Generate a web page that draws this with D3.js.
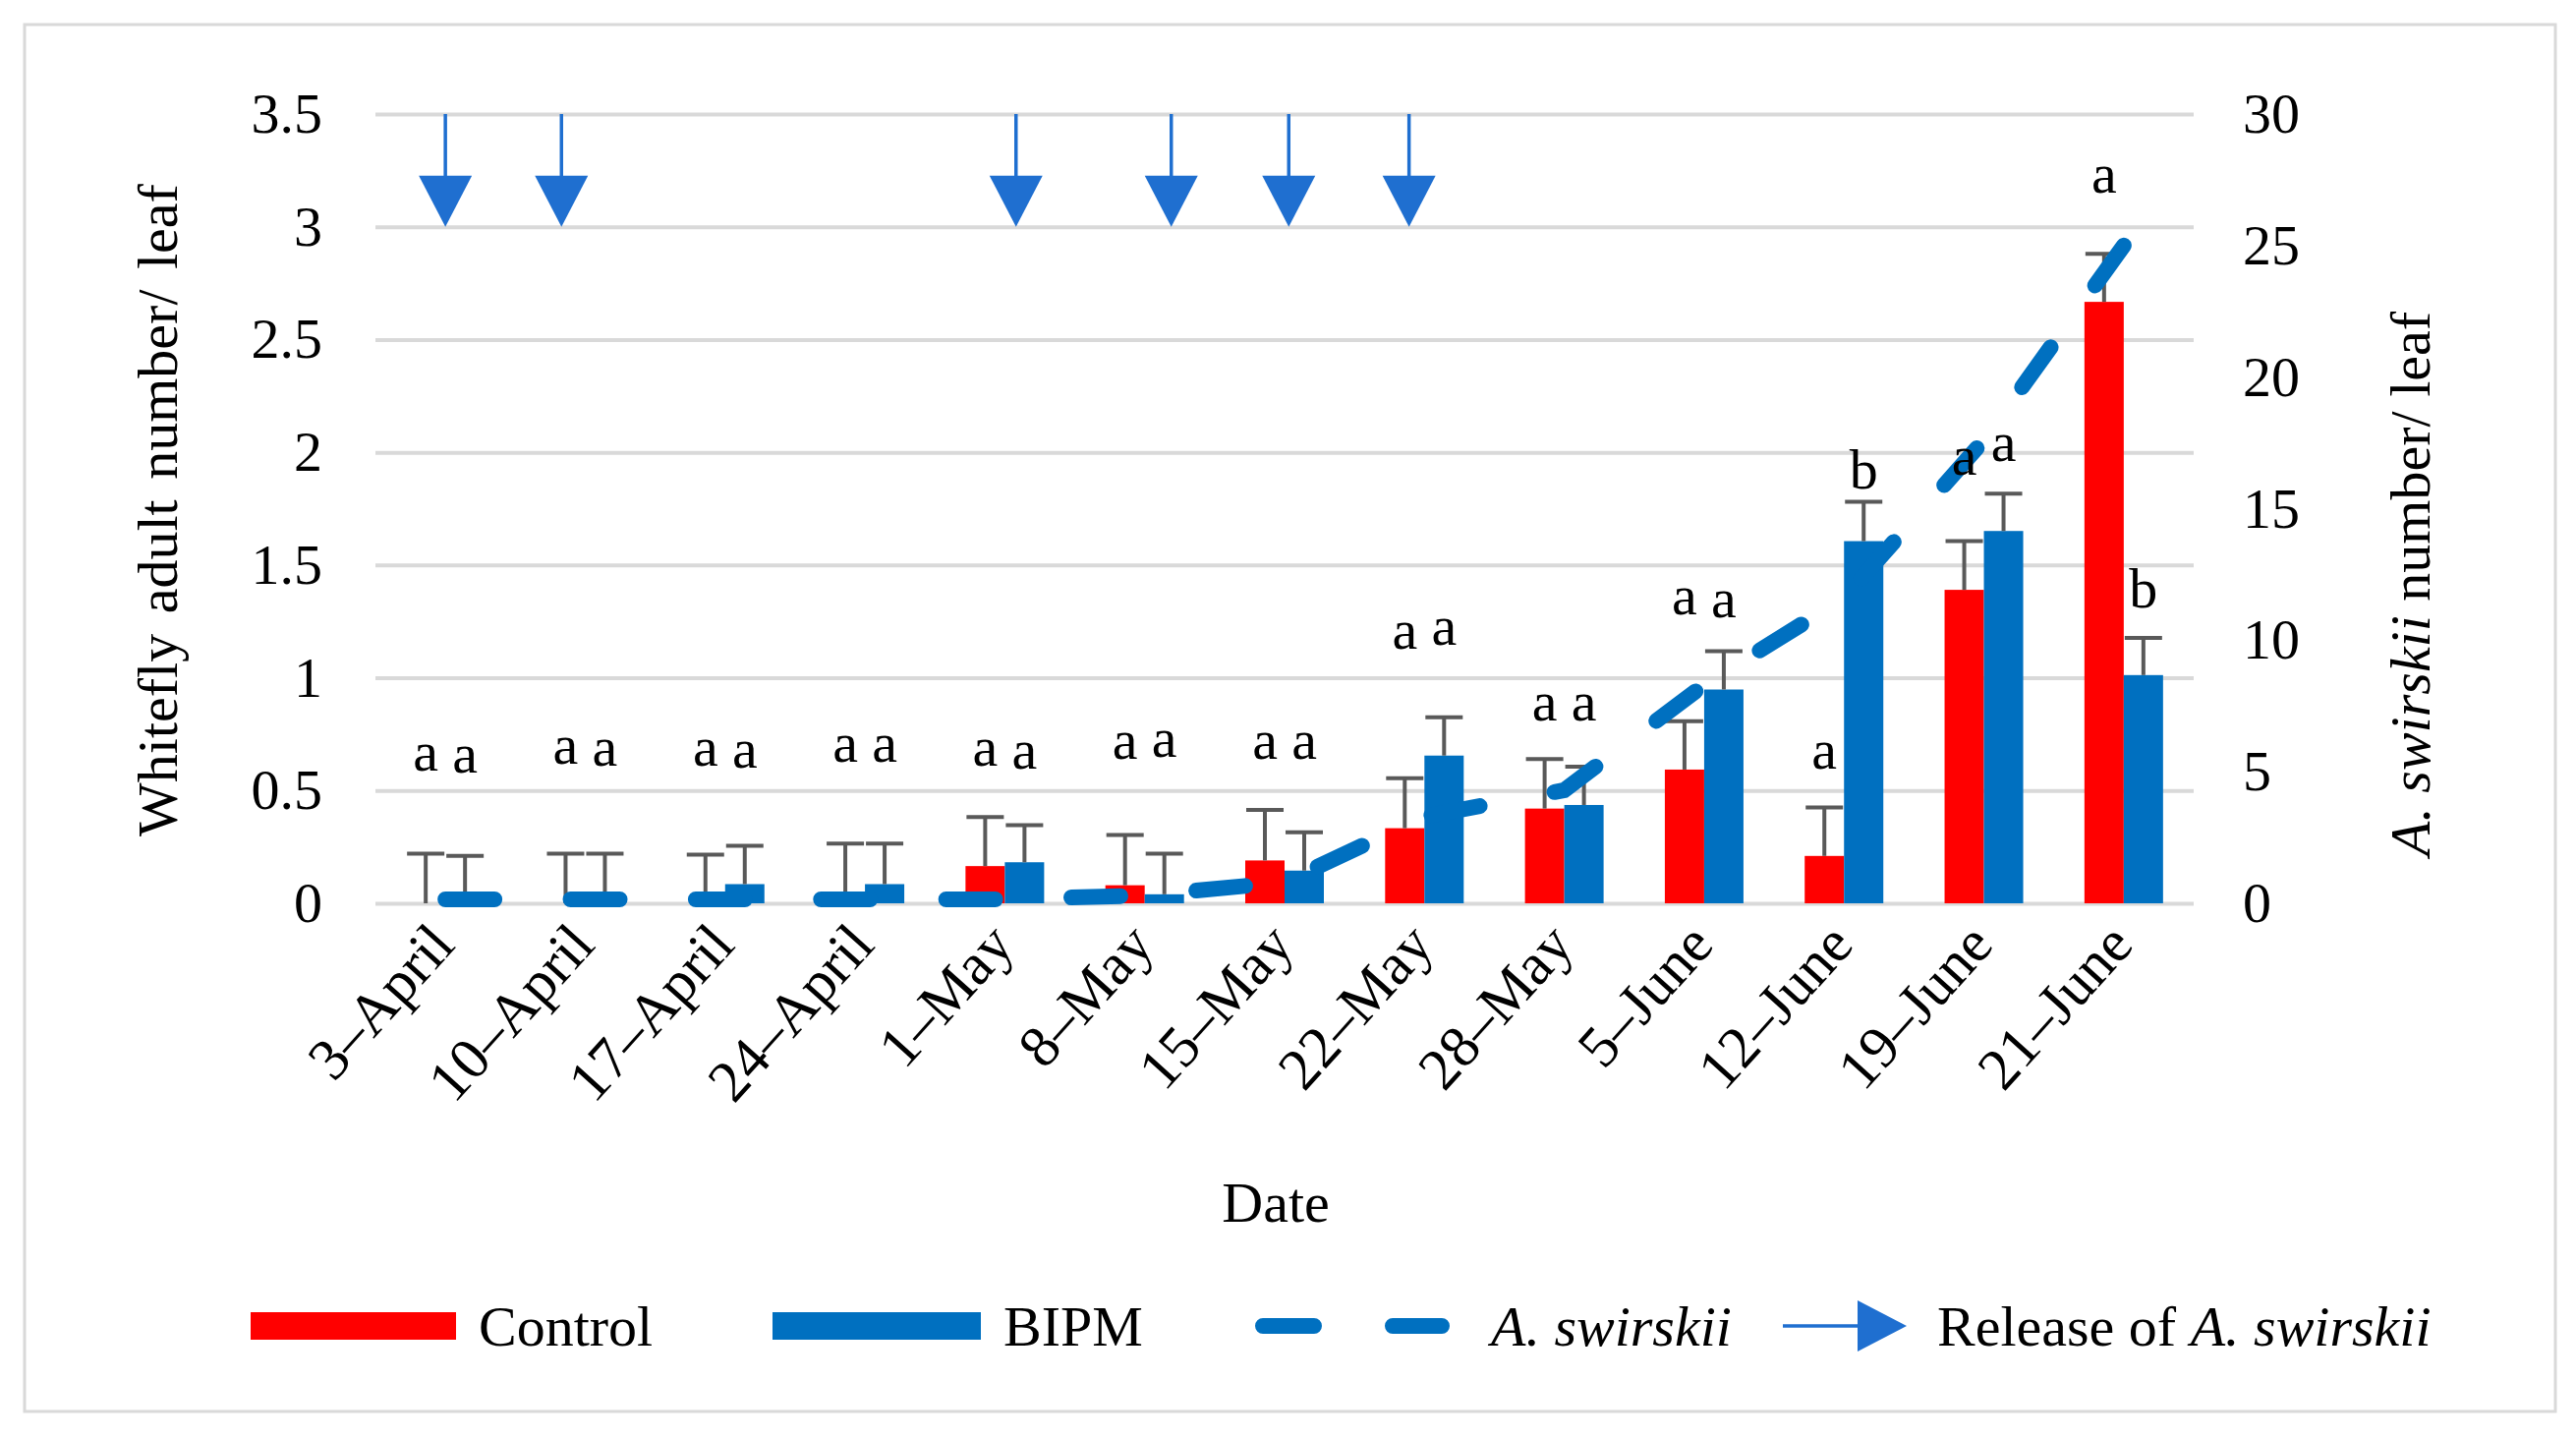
<!DOCTYPE html>
<html>
<head>
<meta charset="utf-8">
<script src="https://cdn.jsdelivr.net/npm/d3@7/dist/d3.min.js"></script>
<style>
  body { margin: 0; background: #fff; }
  text { font-family: "Liberation Serif", "Times New Roman", serif; fill: #000; }
</style>
</head>
<body>
<div id="chart"></div>
<script>
// sampling dates
var dates = ["3–April", "10–April", "17–April", "24–April", "1–May", "8–May", "15–May",
  "22–May", "28–May", "5–June", "12–June", "19–June", "21–June"];
// whitefly adults / leaf
var control = [0, 0, 0, 0.045, 0.165, 0.08, 0.19, 0.333, 0.42, 0.593, 0.21, 1.39, 2.667];
var controlErr = [0.22, 0.22, 0.216, 0.22, 0.218, 0.223, 0.224, 0.222, 0.22, 0.214, 0.215, 0.216, 0.213];
var bipm = [0.02, 0.02, 0.085, 0.085, 0.182, 0.04, 0.145, 0.655, 0.436, 0.948, 1.606, 1.651, 1.012];
var bipmErr = [0.19, 0.2, 0.17, 0.18, 0.165, 0.18, 0.17, 0.17, 0.17, 0.17, 0.175, 0.166, 0.165];
// A. swirskii / leaf (right axis)
var swirskii = [0.15, 0.15, 0.15, 0.15, 0.15, 0.3, 0.8, 3.3, 4.3, 8.3, 11.6, 17.6, 25];
// significance letters and the height (left axis units) where they sit
var controlLetters = ["a", "a", "a", "a", "a", "a", "a", "a", "a", "a", "a", "a", "a"];
var bipmLetters = ["a", "a", "a", "a", "a", "a", "a", "a", "a", "a", "b", "a", "b"];
var controlLetterAt = [0.587, 0.617, 0.61, 0.627, 0.61, 0.64, 0.64, 1.13, 0.81, 1.28, 0.596, 1.9, 3.15];
var bipmLetterAt = [0.58, 0.612, 0.6, 0.627, 0.595, 0.65, 0.64, 1.146, 0.81, 1.27, 1.84, 1.96, 1.31];
// releases of A. swirskii, as position on the date axis (category index)
var releases = [0.0, 0.83, 4.08, 5.19, 6.03, 6.89];
var leftTicks = [0, 0.5, 1, 1.5, 2, 2.5, 3, 3.5];
var rightTicks = [0, 5, 10, 15, 20, 25, 30];

var W = 2621, H = 1463;
var margin = { top: 116, left: 382 };
var width = 2232 - margin.left;
var height = 919 - margin.top;
var RED = "#FF0000", BLUE = "#0070C0", ARROW = "#1F6FD0", ERR = "#595959";
var svg, g, x, x1, y, y2, xr;

function initSvg() {
  svg = d3.select("#chart").append("svg")
    .attr("width", W)
    .attr("height", H)
    .attr("viewBox", "0 0 " + W + " " + H);
  svg.append("rect")
    .attr("x", 25).attr("y", 25)
    .attr("width", 2575).attr("height", 1411)
    .attr("fill", "#fff")
    .attr("stroke", "#d9d9d9")
    .attr("stroke-width", 3);
  g = svg.append("g")
    .attr("transform", "translate(" + margin.left + "," + margin.top + ")");
}

function initAxis() {
  x = d3.scaleBand().domain(dates).range([0, width]).padding(0);
  var bw = x.bandwidth();
  x1 = d3.scaleBand().domain(["control", "bipm"]).range([bw / 2 - 40, bw / 2 + 40]).padding(0);
  y = d3.scaleLinear().domain([0, 3.5]).range([height, 0]);
  y2 = d3.scaleLinear().domain([0, 30]).range([height, 0]);
  xr = d3.scaleLinear().domain([-0.5, dates.length - 0.5]).range([0, width]);
}

function drawAxis() {
  // gridlines
  var grid = g.append("g")
    .attr("class", "grid")
    .call(d3.axisLeft(y).tickValues(leftTicks).tickSize(-width).tickFormat(""));
  grid.select(".domain").remove();
  grid.selectAll("line").attr("stroke", "#d9d9d9").attr("stroke-width", 4);

  var yl = g.append("g")
    .call(d3.axisLeft(y).tickValues(leftTicks).tickSize(0).tickPadding(54)
      .tickFormat(function (d) { return String(d); }));
  yl.select(".domain").remove();
  yl.selectAll("text").attr("font-size", 58).style("font-family", null);

  var yr = g.append("g")
    .attr("transform", "translate(" + width + ",0)")
    .call(d3.axisRight(y2).tickValues(rightTicks).tickSize(0).tickPadding(50));
  yr.select(".domain").remove();
  yr.selectAll("text").attr("font-size", 58).style("font-family", null);

  var xa = g.append("g")
    .attr("transform", "translate(0," + height + ")")
    .call(d3.axisBottom(x).tickSize(0));
  xa.select(".domain").remove();
  xa.selectAll("text")
    .attr("font-size", 60)
    .attr("y", 0)
    .attr("dy", "0.35em")
    .attr("transform", "translate(-4,30) rotate(-48)")
    .style("text-anchor", "end")
    .style("font-family", null);
  svg.selectAll(".tick text").attr("fill", "#000");

  svg.append("text")
    .attr("transform", "translate(160,519) rotate(-90)")
    .attr("text-anchor", "middle")
    .attr("dy", "0.35em")
    .attr("font-size", 58)
    .attr("word-spacing", 6)
    .text("Whitefly adult number/ leaf");

  var rt = svg.append("text")
    .attr("transform", "translate(2452,594) rotate(-90)")
    .attr("text-anchor", "middle")
    .attr("dy", "0.35em")
    .attr("font-size", 58);
  rt.append("tspan").attr("font-style", "italic").text("A. swirskii");
  rt.append("tspan").text(" number/ leaf");

  svg.append("text")
    .attr("x", 1298).attr("y", 1243)
    .attr("text-anchor", "middle")
    .attr("font-size", 58)
    .text("Date");
}

function drawBars() {
  var series = [
    { key: "control", values: control, err: controlErr, color: RED, letters: controlLetters, at: controlLetterAt },
    { key: "bipm", values: bipm, err: bipmErr, color: BLUE, letters: bipmLetters, at: bipmLetterAt }
  ];
  series.forEach(function (s) {
    g.selectAll(".bar-" + s.key)
      .data(s.values)
      .enter().append("rect")
      .attr("class", "bar-" + s.key)
      .attr("x", function (d, i) { return x(dates[i]) + x1(s.key); })
      .attr("y", function (d) { return y(d); })
      .attr("width", x1.bandwidth())
      .attr("height", function (d) { return height - y(d); })
      .attr("fill", s.color);
  });
  series.forEach(function (s) {
    var cx = function (i) { return x(dates[i]) + x1(s.key) + x1.bandwidth() / 2; };
    var eb = g.selectAll(".err-" + s.key)
      .data(s.values)
      .enter().append("g")
      .attr("class", "err-" + s.key)
      .attr("stroke", ERR)
      .attr("stroke-width", 4);
    eb.append("line")
      .attr("x1", function (d, i) { return cx(i); })
      .attr("x2", function (d, i) { return cx(i); })
      .attr("y1", function (d) { return y(d); })
      .attr("y2", function (d, i) { return y(d + s.err[i]); });
    eb.append("line")
      .attr("x1", function (d, i) { return cx(i) - 19; })
      .attr("x2", function (d, i) { return cx(i) + 19; })
      .attr("y1", function (d, i) { return y(d + s.err[i]); })
      .attr("y2", function (d, i) { return y(d + s.err[i]); });
  });
  return series;
}

function drawLine() {
  var line = d3.line()
    .x(function (d, i) { return x(dates[i]) + x.bandwidth() / 2; })
    .y(function (d) { return y2(d); });
  var path = g.append("path")
    .datum(swirskii)
    .attr("d", line)
    .attr("fill", "none")
    .attr("stroke", BLUE)
    .attr("stroke-width", 16)
    .attr("stroke-linecap", "round");
  // long-dash pattern, stretched a little so a dash ends on the last point
  var dash = 50, len = path.node().getTotalLength();
  var n = Math.round((len - dash) / 130);
  var period = (len - dash) / n;
  path.attr("stroke-dasharray", dash + " " + (period - dash));
}

function drawLetters(series) {
  series.forEach(function (s) {
    g.selectAll(".let-" + s.key)
      .data(s.letters)
      .enter().append("text")
      .attr("class", "let-" + s.key)
      .attr("x", function (d, i) { return x(dates[i]) + x1(s.key) + x1.bandwidth() / 2; })
      .attr("y", function (d, i) { return y(s.at[i]); })
      .attr("text-anchor", "middle")
      .attr("font-size", 58)
      .text(function (d) { return d; });
  });
}

function drawArrows() {
  var top = y(3.5), tip = y(3.0);
  var ar = g.selectAll(".release")
    .data(releases)
    .enter().append("g")
    .attr("class", "release");
  ar.append("line")
    .attr("x1", function (d) { return xr(d); })
    .attr("x2", function (d) { return xr(d); })
    .attr("y1", top)
    .attr("y2", tip - 40)
    .attr("stroke", ARROW)
    .attr("stroke-width", 3.5);
  ar.append("path")
    .attr("d", function (d) {
      var cx = xr(d);
      return "M" + (cx - 27) + "," + (tip - 52) + "L" + (cx + 27) + "," + (tip - 52) + "L" + cx + "," + tip + "Z";
    })
    .attr("fill", ARROW);
}

function drawLegend() {
  var lg = svg.append("g").attr("class", "legend");
  var cy = 1349;
  lg.append("rect").attr("x", 255).attr("y", cy - 14).attr("width", 209).attr("height", 28).attr("fill", RED);
  lg.append("text").attr("x", 487).attr("y", cy).attr("dy", "0.35em").attr("font-size", 58).text("Control");
  lg.append("rect").attr("x", 786).attr("y", cy - 14).attr("width", 212).attr("height", 28).attr("fill", BLUE);
  lg.append("text").attr("x", 1021).attr("y", cy).attr("dy", "0.35em").attr("font-size", 58).text("BIPM");
  lg.append("line")
    .attr("x1", 1285).attr("x2", 1467).attr("y1", cy).attr("y2", cy)
    .attr("stroke", BLUE).attr("stroke-width", 16)
    .attr("stroke-linecap", "round").attr("stroke-dasharray", "52 80");
  lg.append("text").attr("x", 1517).attr("y", cy).attr("dy", "0.35em").attr("font-size", 58)
    .attr("font-style", "italic").text("A. swirskii");
  lg.append("line").attr("x1", 1814).attr("x2", 1895).attr("y1", cy).attr("y2", cy)
    .attr("stroke", ARROW).attr("stroke-width", 3.5);
  lg.append("path")
    .attr("d", "M1890," + (cy - 26) + "L1940," + cy + "L1890," + (cy + 26) + "Z")
    .attr("fill", ARROW);
  var rt = lg.append("text").attr("x", 1971).attr("y", cy).attr("dy", "0.35em").attr("font-size", 58);
  rt.append("tspan").text("Release of ");
  rt.append("tspan").attr("font-style", "italic").text("A. swirskii");
}

initSvg();
initAxis();
drawAxis();
var series = drawBars();
drawLine();
drawLetters(series);
drawArrows();
drawLegend();
</script>
</body>
</html>
